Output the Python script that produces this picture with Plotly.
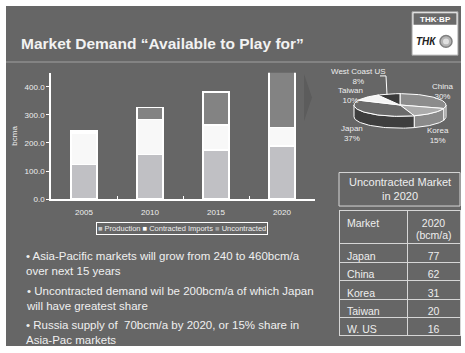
import numpy as np
import plotly.graph_objects as go

# ---- data -------------------------------------------------------------
years = ["2005", "2010", "2015", "2020"]
production = [123, 158, 175, 190]
contracted_imports = [112, 126, 89, 65]
uncontracted = [8, 42, 117, 205]
series_names = ["Production", "Contracted Imports", "Uncontracted"]
y_ticks = [0, 100, 200, 300, 400]

pie_labels = ["China", "Korea", "Japan", "Taiwan", "West Coast US"]
pie_share = [30, 15, 37, 10, 8]

table_markets = ["Japan", "China", "Korea", "Taiwan", "W. US"]
table_values = [77, 62, 31, 20, 16]

bullets = [
    "• Asia-Pacific markets will grow from 240 to 460bcm/a<br>over next 15 years",
    "• Uncontracted demand wil be 200bcm/a of which Japan<br>will have greatest share",
    "• Russia supply of  70bcm/a by 2020, or 15% share in<br>Asia-Pac markets",
]

# ---- page geometry helpers (pixels -> paper) -------------------------
W, H = 465, 353
FONT = "Liberation Sans, Arial, sans-serif"
TXT = "#eeeeee"
BG = "#666666"


def px(x):
    return x / W


def py(y):
    return 1 - y / H


def path(points, close=True):
    s = "M " + " L ".join(f"{px(x):.5f},{py(y):.5f}" for x, y in points)
    return s + (" Z" if close else "")


fig = go.Figure()

# ---- stacked bars ------------------------------------------------------
bar_colors = ["#c0c0c4", "#f8f8f8", "#838383"]
for name, vals, col in zip(series_names, [production, contracted_imports, uncontracted], bar_colors):
    fig.add_trace(go.Bar(
        x=years, y=vals, name=name, width=0.39,
        marker=dict(color=col, line=dict(color="white", width=1.5)),
        showlegend=False, hoverinfo="skip",
    ))

# ---- 3D-style pie built on a pixel-scaled axis pair -------------------
cx, cy, rx, ry, depth = 400, 106.5, 46, 11.5, 12
top_colors = ["#8c8c8c", "#ababab", "#6b6b6b", "#f4f4f4", "#3a3a3a"]
side_colors = ["#6e6e6e", "#8a8a8a", "#3e3e3e", "#cfcfcf", "#2a2a2a"]
bounds = np.concatenate([[0], np.cumsum(pie_share)]) / sum(pie_share) * 360.0


def ell(theta_deg, dy=0.0):
    t = np.radians(theta_deg)
    return cx + rx * np.sin(t), cy - ry * np.cos(t) + dy


# side walls (front half only: 90..270 deg clockwise from 12 o'clock)
for i in range(len(pie_share)):
    a, b = max(bounds[i], 90), min(bounds[i + 1], 270)
    if b <= a:
        continue
    th = np.linspace(a, b, 40)
    xt, yt = ell(th)
    xb, yb = ell(th[::-1], depth)
    fig.add_trace(go.Scatter(
        x=np.concatenate([xt, xb, xt[:1]]), y=np.concatenate([yt, yb, yt[:1]]),
        xaxis="x2", yaxis="y2", mode="lines", fill="toself",
        fillcolor=side_colors[i], line=dict(color="white", width=1),
        showlegend=False, hoverinfo="skip",
    ))

# top faces
for i in range(len(pie_share)):
    th = np.linspace(bounds[i], bounds[i + 1], 60)
    xt, yt = ell(th)
    fig.add_trace(go.Scatter(
        x=np.concatenate([[cx], xt, [cx]]), y=np.concatenate([[cy], yt, [cy]]),
        xaxis="x2", yaxis="y2", mode="lines", fill="toself",
        fillcolor=top_colors[i], line=dict(color="white", width=1),
        showlegend=False, hoverinfo="skip",
    ))

pie_label_pos = {
    "China": (442, 93), "Korea": (438, 137), "Japan": (352, 135),
    "Taiwan": (350, 97), "West Coast US": (358, 78),
}
annotations = []
for lab, share in zip(pie_labels, pie_share):
    lx, ly = pie_label_pos[lab]
    annotations.append(dict(
        x=lx, y=ly, xref="x2", yref="y2", text=f"{lab}<br>{share}%",
        showarrow=False, font=dict(family=FONT, size=8, color=TXT),
        xanchor="center", yanchor="middle",
    ))

# ---- table -------------------------------------------------------------
fig.add_trace(go.Table(
    domain=dict(x=[px(339), px(460)], y=[py(341), py(214)]),
    columnwidth=[68, 53],
    header=dict(
        values=["Market", "2020"],
        align=["left", "center"], height=33,
        fill_color=BG, line=dict(color="#d6d6d6", width=1),
        font=dict(family=FONT, size=10.5, color=TXT),
    ),
    cells=dict(
        values=[table_markets, table_values],
        align=["left", "center"], height=18.4,
        fill_color=BG, line=dict(color="#d6d6d6", width=1),
        font=dict(family=FONT, size=10.5, color=TXT),
    ),
))

# ---- slide decoration --------------------------------------------------
shapes = [
    dict(type="rect", xref="paper", yref="paper", x0=px(6), x1=px(461), y0=py(351), y1=py(6),
         fillcolor=BG, line=dict(width=0), layer="below"),
    dict(type="line", xref="paper", yref="paper", x0=px(6), x1=px(461), y0=py(63), y1=py(63),
         line=dict(color="#8e8e8e", width=1.5)),
    # logo
    dict(type="rect", xref="paper", yref="paper", x0=px(412), x1=px(458), y0=py(56), y1=py(12),
         fillcolor="white", line=dict(color="#a0a0a0", width=1)),
    dict(type="rect", xref="paper", yref="paper", x0=px(413.5), x1=px(456.5), y0=py(25), y1=py(13.5),
         fillcolor="#6a6a6a", line=dict(width=0)),
    dict(type="circle", xref="paper", yref="paper", x0=px(440), x1=px(452), y0=py(48), y1=py(36),
         fillcolor="#b4b4b4", line=dict(color="#808080", width=1.5)),
    dict(type="circle", xref="paper", yref="paper", x0=px(443), x1=px(449), y0=py(45), y1=py(39),
         fillcolor="#e0e0e0", line=dict(width=0)),
    # chevron pointing at the pie
    dict(type="path", xref="paper", yref="paper",
         path=path([(304, 75), (312, 99), (304, 123)]),
         fillcolor="#5c5c5c", line=dict(width=0)),
    # pie leader line
    dict(type="path", xref="x2", yref="y2", path="M 380,77 L 386,77 L 387,96",
         line=dict(color="white", width=1)),
    # table title box
    dict(type="rect", xref="paper", yref="paper", x0=px(339), x1=px(460), y0=py(209), y1=py(175),
         fillcolor=BG, line=dict(color="#d6d6d6", width=1)),
]

annotations += [
    dict(x=px(19), y=py(44), xref="paper", yref="paper", xanchor="left", yanchor="middle",
         text="<b>Market Demand “Available to Play for”</b>", showarrow=False,
         font=dict(family=FONT, size=15.5, color="#f2f2f2")),
    dict(x=px(435), y=py(19.5), xref="paper", yref="paper", text="<b>THK·BP</b>", showarrow=False,
         font=dict(family=FONT, size=8, color="white"), xanchor="center", yanchor="middle"),
    dict(x=px(426), y=py(42), xref="paper", yref="paper", text="<b><i>ТНК</i></b>", showarrow=False,
         font=dict(family=FONT, size=10, color="#222222"), xanchor="center", yanchor="middle"),
    dict(x=px(399.5), y=py(192), xref="paper", yref="paper",
         text="Uncontracted Market<br>in 2020", showarrow=False,
         font=dict(family=FONT, size=11, color=TXT), xanchor="center", yanchor="middle"),
    dict(x=px(434), y=py(238), xref="paper", yref="paper", text="(bcm/a)", showarrow=False,
         font=dict(family=FONT, size=10.5, color=TXT), xanchor="center", yanchor="middle"),
]

# legend row for the bar chart
legend_txt = " ".join(
    f"<span style='color:{c}'>■</span> {n}" for n, c in zip(series_names, ["#c8c8c8", "#ffffff", "#a0a0a0"])
)
annotations.append(dict(
    x=px(182), y=py(232), xref="paper", yref="paper", text=legend_txt, showarrow=False,
    font=dict(family=FONT, size=7.5, color=TXT), bordercolor="white", borderwidth=1, borderpad=1,
    xanchor="center", yanchor="middle",
))

for txt, yy in zip(bullets, [267, 303, 337.5]):
    annotations.append(dict(
        x=px(24), y=py(yy), xref="paper", yref="paper", text=txt, showarrow=False, align="left",
        font=dict(family=FONT, size=11.5, color="#f0f0f0"), xanchor="left", yanchor="middle",
    ))

fig.update_layout(
    width=W, height=H, margin=dict(l=0, r=0, t=0, b=0),
    paper_bgcolor="white", plot_bgcolor="rgba(0,0,0,0)",
    barmode="stack", showlegend=False,
    shapes=shapes, annotations=annotations,
    font=dict(family=FONT, color=TXT),
    xaxis=dict(
        domain=[px(51), px(315)], type="category", showgrid=False,
        showline=True, linecolor="white", linewidth=1.5,
        ticks="inside", tickson="boundaries", ticklen=3, tickcolor="white",
        tickfont=dict(family=FONT, size=8, color=TXT), ticklabelstandoff=5,
    ),
    yaxis=dict(
        domain=[py(202), py(73.75)], range=[0, 450], showgrid=False, zeroline=False,
        showline=True, linecolor="white", linewidth=1.5,
        tickvals=y_ticks, tickformat=".1f", ticks="outside", ticklen=3, tickcolor="white",
        tickfont=dict(family=FONT, size=8, color=TXT),
        title=dict(text="bcma", font=dict(family=FONT, size=8, color=TXT), standoff=6),
    ),
    xaxis2=dict(domain=[px(330), px(460)], range=[330, 460], visible=False, fixedrange=True),
    yaxis2=dict(domain=[py(145), py(70)], range=[145, 70], visible=False, fixedrange=True),
)

fig.write_html("out.html")
